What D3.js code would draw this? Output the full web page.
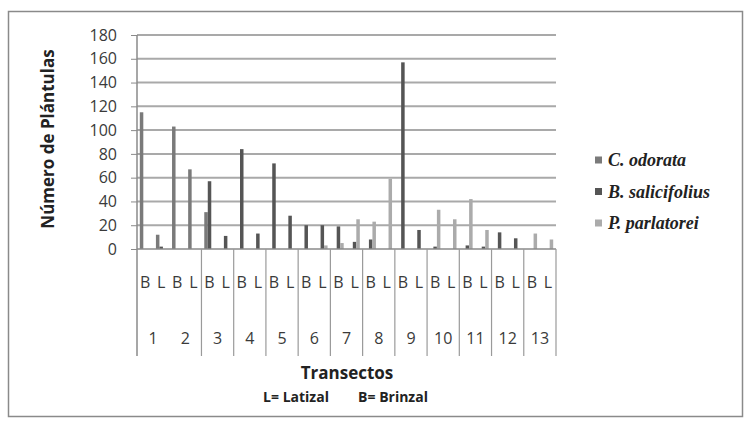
<!DOCTYPE html>
<html>
<head>
<meta charset="utf-8">
<script src="https://cdn.jsdelivr.net/npm/d3@7"></script>
<style>
  body { margin: 0; background: #fff; }
</style>
</head>
<body>
<div id="chart"></div>
<script>
// transects along the x axis, each split into B (brinzal) and L (latizal)
const transects = ["1", "2", "3", "4", "5", "6", "7", "8", "9", "10", "11", "12", "13"]
const stages = ["B", "L"]
const seriesNames = ["C. odorata", "B. salicifolius", "P. parlatorei"]
const yTicks = [0, 20, 40, 60, 80, 100, 120, 140, 160, 180]

// values per category: 1B, 1L, 2B, 2L, ... 13B, 13L
const cOdorata =      [115, 12, 103, 67, 31, 0,  0, 0,  0, 0,  0, 0,  0, 0,  0, 0,  0, 0,  0, 0,  0, 0,  0, 0,  0, 0]
const bSalicifolius = [0, 2,    0, 0,  57, 11, 84, 13, 72, 28, 20, 20, 19, 6, 8, 0, 157, 16, 2, 0,  3, 2,  14, 9, 0, 0]
const pParlatorei =   [0, 0,    0, 0,  0, 0,   0, 0,  0, 0,  0, 3,  5, 25, 23, 59, 0, 0, 33, 25, 42, 16, 0, 0, 13, 8]

const seriesValues = [cOdorata, bSalicifolius, pParlatorei]
const colors = ["#7a7a7a", "#555555", "#ababab"]

const width = 751, height = 423
const margin = { top: 35, left: 137, right: 556, bottom: 249 }
const sans = "'Open Sans', sans-serif"

const svg = d3.select("#chart").append("svg")
    .attr("width", width)
    .attr("height", height)
    .style("font-family", sans)

// outer frame
svg.append("rect")
    .attr("x", 8.5).attr("y", 11.5)
    .attr("width", 734).attr("height", 405)
    .attr("fill", "none")
    .attr("stroke", "#8a8a8a")
    .attr("stroke-width", 1.5)

const categories = []
transects.forEach(t => stages.forEach(s => categories.push(t + s)))

const data = categories.map((c, i) => ({
    key: c,
    values: seriesValues.map((arr, j) => ({ name: seriesNames[j], value: arr[i] }))
}))

const x0 = d3.scaleBand()
    .domain(categories)
    .range([margin.left, margin.right])
    .padding(0)

const x1 = d3.scaleBand()
    .domain(seriesNames)
    .range([0, x0.bandwidth()])
    .paddingInner(0)
    .paddingOuter(0.8)

const xT = d3.scaleBand()
    .domain(transects)
    .range([margin.left, margin.right])

const y = d3.scaleLinear()
    .domain([0, 180])
    .range([margin.bottom, margin.top])

const color = d3.scaleOrdinal().domain(seriesNames).range(colors)

// gridlines
svg.append("g")
    .selectAll("line")
    .data(yTicks.filter(d => d > 0))
    .enter()
    .append("line")
    .attr("x1", margin.left)
    .attr("x2", margin.right)
    .attr("y1", d => y(d))
    .attr("y2", d => y(d))
    .attr("stroke", "#a9a9a9")
    .attr("stroke-width", 2)

// y axis
const yAxis = d3.axisLeft(y).tickValues(yTicks).tickSize(6).tickPadding(14)
const gy = svg.append("g")
    .attr("transform", `translate(${margin.left},0)`)
    .call(yAxis)
gy.select(".domain").remove()
gy.selectAll(".tick line").attr("stroke", "#8a8a8a")
gy.selectAll(".tick text")
    .attr("font-size", 16)
    .attr("fill", "#3a3a3a")
    .attr("font-family", sans)

// bars
svg.append("g")
    .selectAll("g")
    .data(data)
    .enter()
    .append("g")
    .attr("transform", d => `translate(${x0(d.key)},0)`)
    .selectAll("rect")
    .data(d => d.values.filter(v => v.value > 0))
    .enter()
    .append("rect")
    .attr("x", d => x1(d.name))
    .attr("y", d => y(d.value))
    .attr("width", x1.bandwidth())
    .attr("height", d => y(0) - y(d.value))
    .attr("fill", d => color(d.name))

// axis lines
svg.append("line")
    .attr("x1", margin.left).attr("x2", margin.left)
    .attr("y1", margin.top).attr("y2", 356)
    .attr("stroke", "#8a8a8a").attr("stroke-width", 1.5)
svg.append("line")
    .attr("x1", margin.left).attr("x2", margin.right)
    .attr("y1", margin.bottom).attr("y2", margin.bottom)
    .attr("stroke", "#8a8a8a").attr("stroke-width", 1.5)

// transect separators (none drawn between 1 and 2 in the original)
svg.append("g")
    .selectAll("line")
    .data(transects.slice(2).concat(["end"]))
    .enter()
    .append("line")
    .attr("x1", d => d === "end" ? margin.right : xT(d))
    .attr("x2", d => d === "end" ? margin.right : xT(d))
    .attr("y1", margin.bottom)
    .attr("y2", 356)
    .attr("stroke", "#9a9a9a")
    .attr("stroke-width", 1.2)

// B / L labels
svg.append("g")
    .selectAll("text")
    .data(categories)
    .enter()
    .append("text")
    .attr("x", d => x0(d) + x0.bandwidth() / 2)
    .attr("y", 288)
    .attr("text-anchor", "middle")
    .attr("font-size", 16)
    .attr("fill", "#3a3a3a")
    .text(d => d.slice(-1))

// transect numbers
svg.append("g")
    .selectAll("text")
    .data(transects)
    .enter()
    .append("text")
    .attr("x", d => xT(d) + xT.bandwidth() / 2)
    .attr("y", 344)
    .attr("text-anchor", "middle")
    .attr("font-size", 16)
    .attr("fill", "#3a3a3a")
    .text(d => d)

// axis titles
svg.append("text")
    .attr("transform", "translate(54,139) rotate(-90)")
    .attr("text-anchor", "middle")
    .attr("font-size", 17)
    .attr("font-weight", "bold")
    .attr("fill", "#222")
    .text("Número de Plántulas")

svg.append("text")
    .attr("x", 347).attr("y", 379)
    .attr("text-anchor", "middle")
    .attr("font-size", 17)
    .attr("font-weight", "bold")
    .attr("fill", "#222")
    .text("Transectos")

svg.append("text")
    .attr("x", 296).attr("y", 402)
    .attr("text-anchor", "middle")
    .attr("font-size", 14)
    .attr("font-weight", "bold")
    .attr("fill", "#222")
    .text("L= Latizal")

svg.append("text")
    .attr("x", 393).attr("y", 402)
    .attr("text-anchor", "middle")
    .attr("font-size", 14)
    .attr("font-weight", "bold")
    .attr("fill", "#222")
    .text("B= Brinzal")

// legend
const legend = svg.append("g")
    .selectAll("g")
    .data(seriesNames)
    .enter()
    .append("g")
    .attr("transform", (d, i) => `translate(595,${160 + i * 31.5})`)

legend.append("rect")
    .attr("x", 0).attr("y", -3.5)
    .attr("width", 7).attr("height", 7)
    .attr("fill", d => color(d))

legend.append("text")
    .attr("x", 13).attr("y", 6)
    .style("font-family", "'Liberation Serif', 'DejaVu Serif', serif")
    .attr("font-style", "italic")
    .attr("font-weight", "bold")
    .attr("font-size", 18)
    .attr("fill", "#222")
    .text(d => d)
</script>
</body>
</html>
